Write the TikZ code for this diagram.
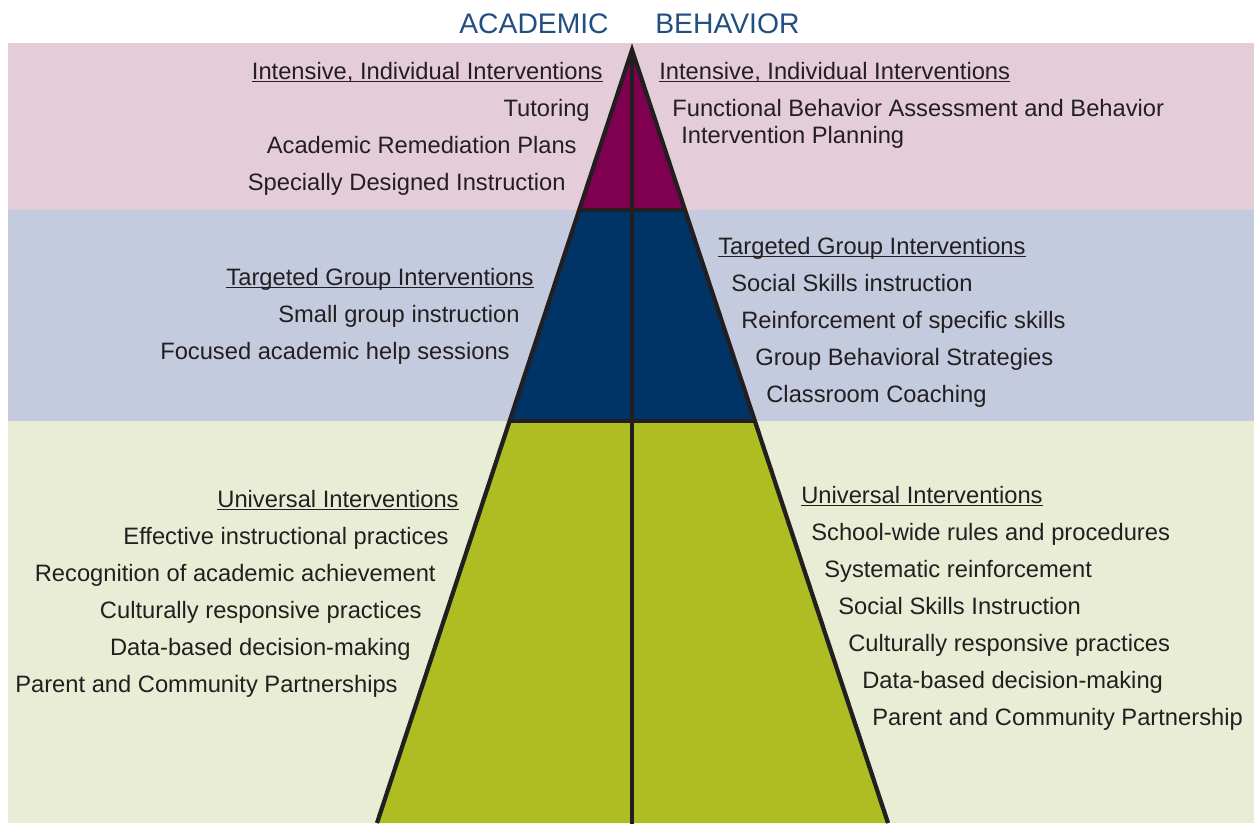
\documentclass[tikz,border=0pt]{standalone}
\usepackage{fontspec}
\setmainfont{Liberation Sans}
\usetikzlibrary{positioning,calc}
\definecolor{ink}{RGB}{35,31,32}
\definecolor{titleblue}{RGB}{34,78,128}
\definecolor{pinkband}{RGB}{229,204,217}
\definecolor{blueband}{RGB}{197,203,223}
\definecolor{greenband}{RGB}{234,237,213}
\definecolor{tiptone}{RGB}{128,0,80}
\definecolor{midtone}{RGB}{0,51,102}
\definecolor{basetone}{RGB}{173,189,34}
\tikzset{
  txt/.style={inner sep=0pt,text=ink,font=\fontsize{13.5}{15}\selectfont},
  lft/.style={txt,anchor=base east},
  rgt/.style={txt,anchor=base west},
  ttl/.style={inner sep=0pt,anchor=base west,text=titleblue,font=\fontsize{16.1}{18}\selectfont},
  edge/.style={ink,line width=0.085cm}
}

\begin{document}
\begin{tikzpicture}[x=0.02cm,y=-0.02cm]
 \useasboundingbox (0,0) rectangle (1254,823);
 \clip (0,0) rectangle (1254,823);
 \fill[pinkband] (8,43) rectangle (1254,210);
 \fill[blueband] (8,210) rectangle (1254,421);
 \fill[greenband] (8,421) rectangle (1254,823);
 \coordinate (apex) at (632,50);
 \coordinate (bl) at (377,823);
 \coordinate (br) at (888,823);
 \coordinate (tl) at (579.2,210);
 \coordinate (tr) at (685,210);
 \coordinate (ml) at (509.6,421);
 \coordinate (mr) at (754.9,421);
 \fill[tiptone] (apex) -- (tl) -- (tr) -- cycle;
 \fill[midtone] (tl) -- (ml) -- (mr) -- (tr) -- cycle;
 \fill[basetone] (ml) -- (bl) -- (br) -- (mr) -- cycle;
 \draw[edge] (tl) -- (tr);
 \draw[edge] (ml) -- (mr);
 \draw[edge] (apex) -- (632,830);
 \draw[edge,line join=miter] (bl) -- (apex) -- (br);

 \node[ttl] (acad) at (459,33) {ACADEMIC};
 \node[ttl] (behav) at (655,33) {BEHAVIOR};

 \node[lft] (lh1) at (603,79) {Intensive, Individual Interventions};
 \node[lft] (la1) at (590,116) {Tutoring};
 \node[lft] (la2) at (577,153) {Academic Remediation Plans};
 \node[lft] (la3) at (566,190) {Specially Designed Instruction};

 \node[rgt] (rh1) at (659,79) {Intensive, Individual Interventions};
 \node[rgt] (ra1) at (672,116) {Functional Behavior Assessment and Behavior};
 \node[rgt] (ra2) at (681,143) {Intervention Planning};

 \node[lft] (lh2) at (534,285) {Targeted Group Interventions};
 \node[lft] (lb1) at (520,322) {Small group instruction};
 \node[lft] (lb2) at (510,359) {Focused academic help sessions};

 \node[rgt] (rh2) at (718,254) {Targeted Group Interventions};
 \node[rgt] (rb1) at (731,291) {Social Skills instruction};
 \node[rgt] (rb2) at (741,328) {Reinforcement of specific skills};
 \node[rgt] (rb3) at (755,365) {Group Behavioral Strategies};
 \node[rgt] (rb4) at (766,402) {Classroom Coaching};

 \node[lft] (lh3) at (459,507) {Universal Interventions};
 \node[lft] (lc1) at (449,544) {Effective instructional practices};
 \node[lft] (lc2) at (436,581) {Recognition of academic achievement};
 \node[lft] (lc3) at (422,618) {Culturally responsive practices};
 \node[lft] (lc4) at (411,655) {Data-based decision-making};
 \node[lft] (lc5) at (398,692) {Parent and Community Partnerships};

 \node[rgt] (rh3) at (801,503) {Universal Interventions};
 \node[rgt] (rc1) at (811,540) {School-wide rules and procedures};
 \node[rgt] (rc2) at (824,577) {Systematic reinforcement};
 \node[rgt] (rc3) at (838,614) {Social Skills Instruction};
 \node[rgt] (rc4) at (848,651) {Culturally responsive practices};
 \node[rgt] (rc5) at (862,688) {Data-based decision-making};
 \node[rgt] (rc6) at (872,725) {Parent and Community Partnership};

 \foreach \h in {lh1,rh1,lh2,rh2,lh3,rh3}
  \draw[ink,line width=0.03cm] ([yshift=-0.05cm]\h.base west) -- ([yshift=-0.05cm]\h.base east);
\end{tikzpicture}
\end{document}
